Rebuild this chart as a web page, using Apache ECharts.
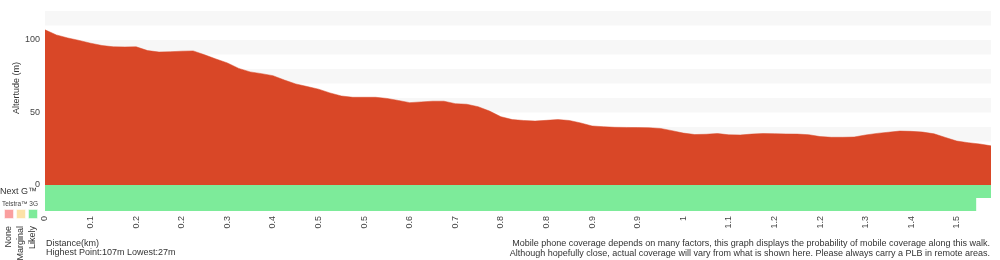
<!DOCTYPE html>
<html><head><meta charset="utf-8">
<script src="https://cdn.jsdelivr.net/npm/echarts@6/dist/echarts.min.js"></script>
<style>html,body{margin:0;padding:0;background:#fff}#c{width:1000px;height:260px}</style>
</head><body><div id="c"></div>
<script>
// Distance tick labels (km), one per 4 sample points
const tickLabels = ['0','0.1','0.2','0.2','0.3','0.4','0.5','0.5','0.6','0.7','0.8','0.8','0.9','0.9','1','1.1','1.2','1.2','1.3','1.4','1.5'];
// Elevation samples (m)
const elevation = [107,103.5,101.4,99.7,97.8,96.2,95.3,95.2,95.3,92.7,
  91.7,91.9,92.3,92.5,89.8,86.9,84.2,80.4,78,76.8,
  75.4,72.4,69.7,67.9,66.1,63.5,61.4,60.5,60.5,60.5,
  59.7,58.3,56.8,57.3,57.8,57.8,56.1,55.7,54,51,
  47.1,45.1,44.5,44.1,44.6,45.1,44.5,42.8,40.7,40.2,
  39.8,39.7,39.6,39.5,39,37.5,35.8,34.8,35,35.5,
  34.6,34.5,35.1,35.5,35.4,35.2,35.1,34.7,33.4,32.9,
  32.9,33.1,34.5,35.6,36.4,37.2,37,36.5,35.3,32.8,
  30.3,29.2,28.3,27];
// Coverage rows and segments [start sample, end sample, level]
const coverageRows = ['Telstra™ 3G', 'Next G™'];
const nextGCoverage = [[0, 83, 'Likely']];
const telstra3GCoverage = [[0, 81.7, 'Likely']];
const levels = ['None', 'Marginal', 'Likely'];
const levelColors = {None: '#fa9f9f', Marginal: '#fde2a7', Likely: '#7deb9a'};
const summaryText = 'Highest Point:107m Lowest:27m';
const disclaimer = 'Mobile phone coverage depends on many factors, this graph displays the probability of mobile coverage along this walk.\nAlthough hopefully close, actual coverage will vary from what is shown here. Please always carry a PLB in remote areas.';

const FONT = '"Liberation Sans", Arial, sans-serif';
const lastIdx = elevation.length - 1;
const categories = elevation.map((_, i) => String(i));

const covData = [];
nextGCoverage.forEach(s => covData.push([1, s[0], s[1], s[2]]));
telstra3GCoverage.forEach(s => covData.push([0, s[0], s[1], s[2]]));

const chart = echarts.init(document.getElementById('c'), null, {renderer: 'canvas'});
const graphics = [];
levels.forEach((lv, k) => {
  graphics.push({type: 'rect', left: 4 + k * 12, top: 209, shape: {width: 9, height: 9},
    style: {fill: levelColors[lv], stroke: 'rgba(255,255,255,0.5)', lineWidth: 1}});
  graphics.push({type: 'text', x: 9 + k * 12, y: 226, rotation: Math.PI / 2,
    style: {text: lv, font: '9px ' + FONT, fill: '#333', align: 'right', verticalAlign: 'middle'}});
});
graphics.push({type: 'text', x: 17, y: 88, rotation: Math.PI / 2,
  style: {text: 'Altertude (m)', font: '9px ' + FONT, fill: '#333', align: 'center', verticalAlign: 'middle'}});
graphics.push({type: 'text', x: 46, y: 239,
  style: {text: 'Distance(km)\n' + summaryText, font: '9px ' + FONT, fill: '#333', lineHeight: 9, align: 'left'}});
graphics.push({type: 'text', x: 990, y: 239,
  style: {text: disclaimer, font: '9px ' + FONT, fill: '#333', lineHeight: 9.5, align: 'right'}});

chart.setOption({
  animation: false,
  grid: [
    {left: 45, right: 9, top: 11, height: 174, outerBoundsMode: 'none', containLabel: false},
    {left: 45, right: 9, top: 185, height: 26, outerBoundsMode: 'none', containLabel: false}
  ],
  xAxis: [
    {type: 'category', gridIndex: 0, data: categories, boundaryGap: false,
      axisLine: {show: false}, axisTick: {show: false}, axisLabel: {show: false}, splitLine: {show: false}},
    {type: 'value', gridIndex: 1, min: 0, max: lastIdx, interval: 4,
      axisLine: {show: false}, axisTick: {show: false}, splitLine: {show: false},
      axisLabel: {rotate: 90, margin: 5, fontSize: 9, fontFamily: FONT, color: '#444',
        formatter: v => (v % 4 === 0 && tickLabels[v / 4] !== undefined) ? tickLabels[v / 4] : ''}}
  ],
  yAxis: [
    {type: 'value', gridIndex: 0, min: 0, max: 120, interval: 10,
      axisLine: {show: false}, axisTick: {show: false}, splitLine: {show: false},
      splitArea: {show: true, areaStyle: {color: ['#ffffff', '#f7f7f7']}},
      axisLabel: {margin: 5, fontSize: 9, fontFamily: FONT, color: '#444',
        formatter: v => v % 50 === 0 ? String(v) : ''}},
    {type: 'category', gridIndex: 1, data: coverageRows,
      axisLine: {show: false}, axisTick: {show: false}, splitLine: {show: false},
      axisLabel: {interval: 0, hideOverlap: false, margin: 7, fontFamily: FONT, color: '#333',
        formatter: v => v === 'Next G™' ? '{big|' + v + '}' : '{small|' + v + '}',
        rich: {big: {fontSize: 9, fontFamily: FONT, color: '#333', padding: [0, 1, 0, 0]},
               small: {fontSize: 6.5, fontFamily: FONT, color: '#444'}}}}
  ],
  graphic: graphics,
  series: [
    {type: 'line', xAxisIndex: 0, yAxisIndex: 0, data: elevation, showSymbol: false,
      lineStyle: {width: 0.5, color: '#d94727'}, areaStyle: {color: '#d94727', opacity: 1}},
    {type: 'custom', xAxisIndex: 1, yAxisIndex: 1, data: covData,
      encode: {x: [1, 2], y: 0},
      renderItem: (params, api) => {
        const p0 = api.coord([api.value(1), api.value(0)]);
        const p1 = api.coord([api.value(2), api.value(0)]);
        const h = api.size([0, 1])[1];
        return {type: 'rect', shape: {x: p0[0], y: p0[1] - h / 2, width: p1[0] - p0[0], height: h},
          style: {fill: levelColors[covData[params.dataIndex][3]]}};
      }}
  ]
});
</script></body></html>
